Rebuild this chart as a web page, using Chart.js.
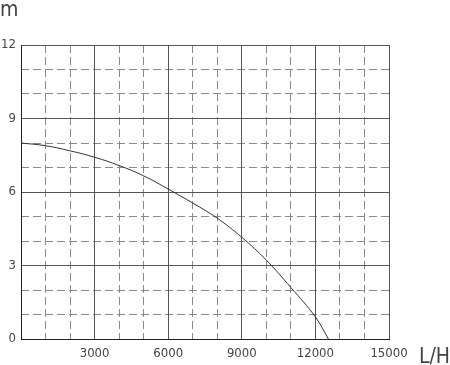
<!DOCTYPE html>
<html>
<head>
<meta charset="utf-8">
<script src="https://cdn.jsdelivr.net/npm/chart.js@4"></script>
<style>
    html, body { margin: 0; padding: 0; background: #fff; }
    #wrap { width: 450px; height: 365px; position: relative; }
</style>
</head>
<body>
<div id="wrap"><canvas id="chart"></canvas></div>
<script>
// pump curve
const flowValues = [0, 1000, 2000, 3000, 4000, 5000, 6000, 7000, 8000, 9000, 10000, 11000, 12000, 12530];
const headValues = [8.0, 7.89, 7.68, 7.42, 7.08, 6.66, 6.12, 5.55, 4.93, 4.15, 3.22, 2.1, 0.9, 0];

const xMax = 15000;
const yMax = 12;
const xMajorStep = 3000;
const xMinorStep = 1000;
const yMajorStep = 3;
const yMinorStep = 1;

const textColor = '#444';
const tickFont = { family: '"DejaVu Sans Condensed", "Liberation Sans Narrow", sans-serif', size: 13 };

const unitLabels = {
    id: 'unitLabels',
    afterDraw(chart) {
        const { ctx, chartArea } = chart;
        ctx.save();
        ctx.fillStyle = textColor;
        ctx.font = '21px "DejaVu Sans Condensed", sans-serif';
        ctx.textBaseline = 'alphabetic';
        ctx.textAlign = 'right';
        ctx.fillText('L/H', 450, chartArea.bottom + 24);
        ctx.textAlign = 'left';
        ctx.fillText('m', 0, 16);
        ctx.restore();
    },
};

function fixSize(prop, size) {
    return (scale) => { scale[prop] = size; };
}

const points = flowValues.map((x, i) => ({ x, y: headValues[i] }));

new Chart(document.getElementById('chart'), {
    type: 'scatter',
    data: {
        datasets: [{
            data: points,
            showLine: true,
            borderColor: '#333',
            borderWidth: 1,
            pointRadius: 0,
            tension: 0.4,
        }],
    },
    options: {
        responsive: true,
        maintainAspectRatio: false,
        animation: false,
        layout: { padding: { top: 45, right: 61, left: 0, bottom: 0 } },
        plugins: {
            legend: { display: false },
            tooltip: { enabled: false },
        },
        scales: {
            xMinor: {
                type: 'linear',
                position: 'bottom',
                min: 0,
                max: xMax,
                ticks: { display: false, stepSize: xMinorStep },
                grid: {
                    drawTicks: false,
                    color: (c) => (c.tick && c.tick.value % xMajorStep === 0 ? 'rgba(0,0,0,0)' : '#888'),
                    lineWidth: 1,
                },
                border: { display: false, dash: [8, 4] },
                afterFit: fixSize('height', 0),
            },
            yMinor: {
                type: 'linear',
                position: 'left',
                min: 0,
                max: yMax,
                ticks: { display: false, stepSize: yMinorStep },
                grid: {
                    drawTicks: false,
                    color: (c) => (c.tick && c.tick.value % yMajorStep === 0 ? 'rgba(0,0,0,0)' : '#888'),
                    lineWidth: 1,
                },
                border: { display: false, dash: [8, 4] },
                afterFit: fixSize('width', 0),
            },
            x: {
                type: 'linear',
                position: 'bottom',
                min: 0,
                max: xMax,
                ticks: {
                    stepSize: xMajorStep,
                    color: textColor,
                    font: tickFont,
                    padding: 7,
                    maxRotation: 0,
                    callback: (v) => (v === 0 ? '' : String(v)),
                },
                grid: { drawTicks: false, color: '#555', lineWidth: 1 },
                border: { color: '#222', width: 1 },
                afterFit: fixSize('height', 26),
            },
            y: {
                type: 'linear',
                position: 'left',
                min: 0,
                max: yMax,
                ticks: {
                    stepSize: yMajorStep,
                    color: textColor,
                    font: tickFont,
                    padding: 5,
                },
                grid: { drawTicks: false, color: '#555', lineWidth: 1 },
                border: { color: '#222', width: 1 },
                afterFit: fixSize('width', 21),
            },
        },
    },
    plugins: [unitLabels],
});
</script>
</body>
</html>
